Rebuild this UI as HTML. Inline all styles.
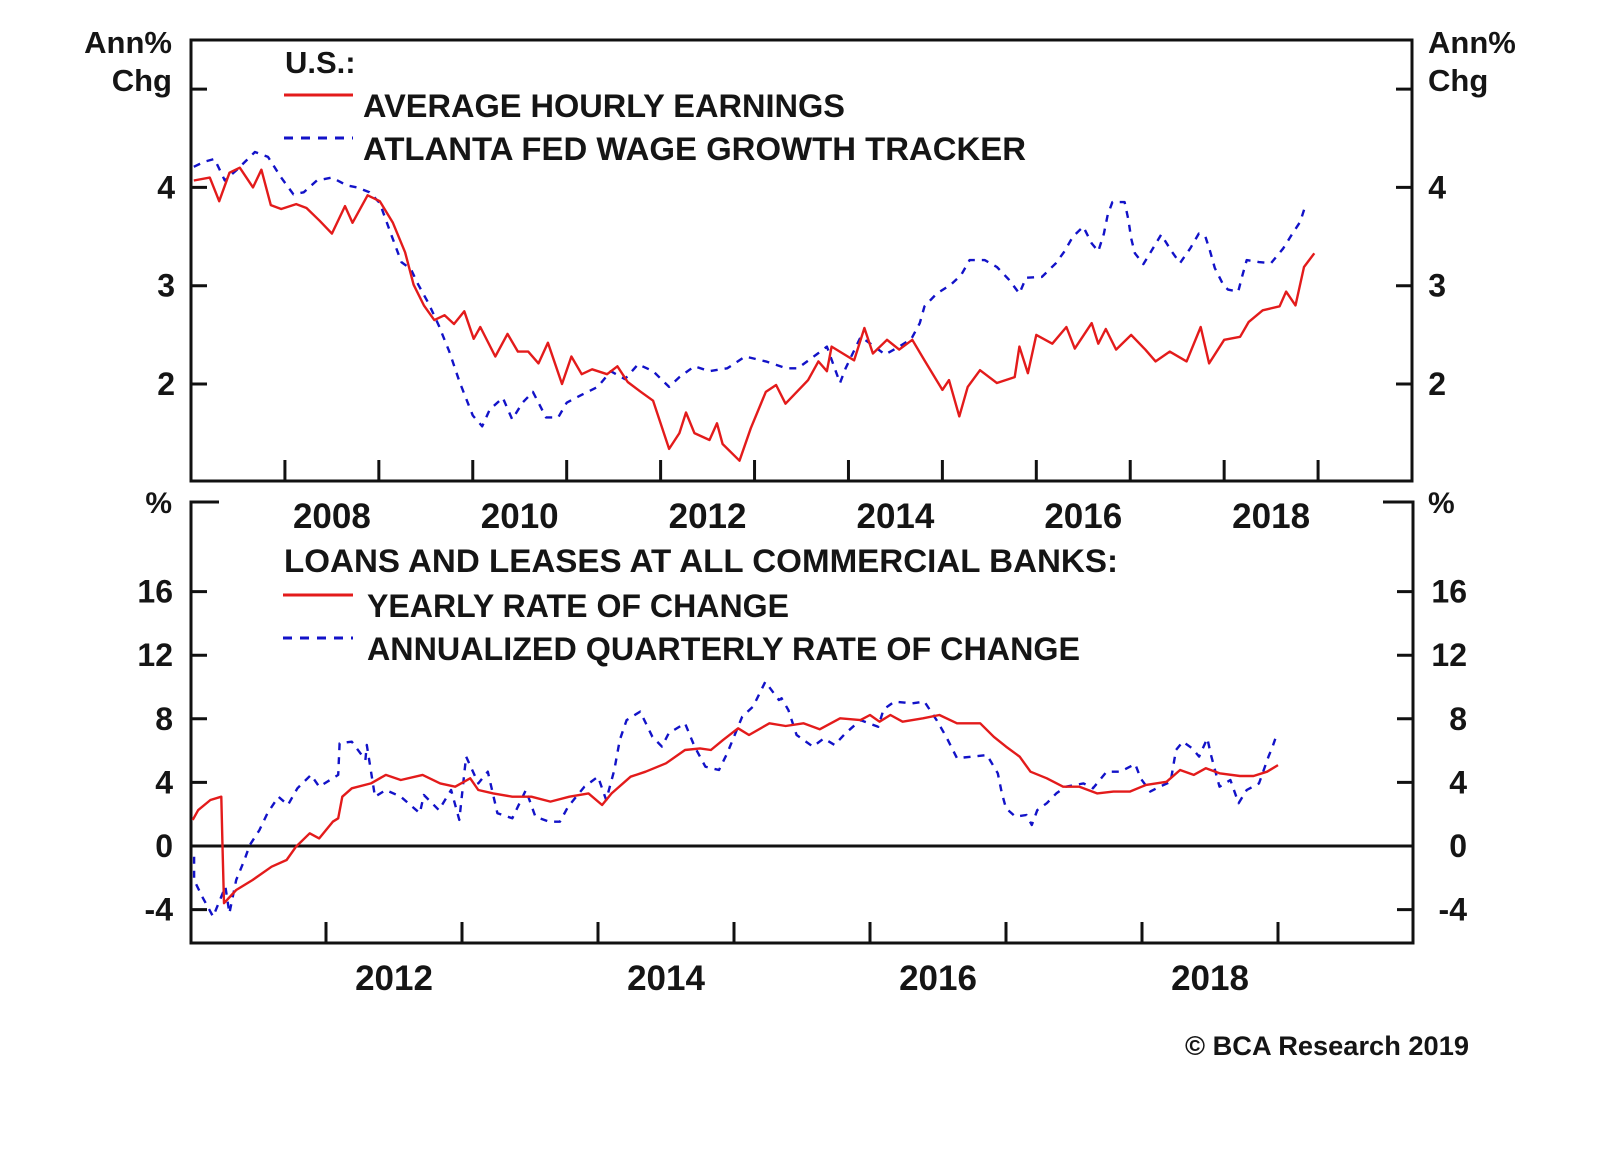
<!DOCTYPE html>
<html><head><meta charset="utf-8">
<style>
html,body{margin:0;padding:0;background:#fff;}
svg{display:block;}
text{font-family:"Liberation Sans",Arial,sans-serif;font-weight:bold;fill:#151515;}
</style></head>
<body>
<svg id="chart" width="1600" height="1152" viewBox="0 0 1600 1152" xmlns="http://www.w3.org/2000/svg">
  <rect width="1600" height="1152" fill="#fff"/>
  <g id="top-panel"></g>
  <g id="bot-panel"></g>
  <text x="1185" y="1055" font-size="27" textLength="284" lengthAdjust="spacingAndGlyphs">© BCA Research 2019</text>
</svg>
<script>
// ---- Top panel data ----
const aheYears = [2007.03,2007.2,2007.3,2007.41,2007.52,2007.66,2007.75,2007.85,2007.96,2008.12,2008.23,2008.37,2008.5,2008.64,2008.72,2008.88,2009.01,2009.15,2009.28,2009.37,2009.48,2009.59,2009.7,2009.8,2009.91,2010.01,2010.08,2010.24,2010.37,2010.48,2010.59,2010.7,2010.8,2010.95,2011.05,2011.16,2011.27,2011.43,2011.54,2011.65,2011.79,2011.92,2012.09,2012.2,2012.27,2012.36,2012.52,2012.6,2012.66,2012.84,2012.96,2013.12,2013.23,
2013.33,2013.57,2013.68,2013.77,2013.82,2014.06,2014.17,2014.26,2014.41,2014.54,2014.68,2014.81,2015.0,2015.07,2015.18,2015.27,2015.4,2015.58,2015.77,2015.82,2015.91,2016.0,2016.17,2016.32,2016.41,2016.59,2016.66,2016.74,2016.85,2017.01,2017.16,2017.27,2017.42,2017.6,2017.75,2017.84,2018.0,2018.17,2018.26,2018.41,2018.59,2018.66,2018.76,2018.85,2018.96];
const aheValues = [4.07,4.1,3.86,4.15,4.2,4.0,4.18,3.82,3.78,3.83,3.79,3.66,3.53,3.81,3.64,3.92,3.86,3.64,3.34,3.01,2.8,2.65,2.7,2.61,2.74,2.46,2.58,2.28,2.51,2.33,2.33,2.21,2.42,2.0,2.28,2.1,2.15,2.1,2.18,2.02,1.92,1.83,1.34,1.5,1.71,1.5,1.43,1.6,1.39,1.22,1.55,1.92,1.99,
1.80,2.04,2.23,2.13,2.38,2.24,2.57,2.31,2.45,2.35,2.45,2.24,1.94,2.04,1.67,1.97,2.14,2.01,2.07,2.38,2.11,2.5,2.41,2.58,2.36,2.62,2.41,2.56,2.35,2.5,2.35,2.23,2.33,2.23,2.58,2.21,2.45,2.48,2.63,2.75,2.79,2.94,2.8,3.19,3.33];
const atlYears = [2007.03,2007.14,2007.25,2007.36,2007.49,2007.68,2007.82,2007.96,2008.09,2008.2,2008.34,2008.5,2008.66,2008.77,2008.9,2009.01,2009.12,2009.24,2009.34,2009.42,2009.53,2009.64,2009.75,2009.86,2010.0,2010.1,2010.18,2010.32,2010.42,2010.53,2010.64,2010.78,2010.91,2011.0,2011.16,2011.33,2011.47,2011.62,2011.76,2011.92,2012.09,2012.2,2012.36,2012.52,2012.71,2012.9,2013.12,2013.34,
2013.46,2013.66,2013.77,2013.91,2013.97,2014.13,2014.25,2014.39,2014.54,2014.67,2014.76,2014.81,2014.94,2015.09,2015.2,2015.29,2015.45,2015.58,2015.71,2015.82,2015.89,2016.06,2016.21,2016.3,2016.39,2016.5,2016.59,2016.66,2016.72,2016.76,2016.81,2016.94,2016.98,2017.01,2017.05,2017.14,2017.23,2017.33,2017.44,2017.53,2017.64,2017.73,2017.8,2017.85,2017.9,2017.99,2018.04,2018.15,2018.19,2018.24,2018.37,2018.5,2018.63,2018.72,2018.81,2018.87];
const atlValues = [4.21,4.26,4.29,4.07,4.18,4.36,4.31,4.1,3.93,3.95,4.07,4.1,4.02,4.0,3.95,3.84,3.55,3.24,3.17,3.01,2.82,2.59,2.33,2.02,1.68,1.57,1.74,1.86,1.64,1.81,1.92,1.66,1.66,1.81,1.89,1.97,2.13,2.05,2.2,2.13,1.97,2.07,2.18,2.13,2.16,2.28,2.23,2.16,
2.16,2.3,2.38,2.01,2.16,2.48,2.4,2.3,2.38,2.46,2.62,2.79,2.92,3.01,3.11,3.26,3.26,3.19,3.06,2.92,3.08,3.09,3.23,3.35,3.5,3.6,3.43,3.35,3.53,3.72,3.85,3.85,3.67,3.48,3.33,3.22,3.36,3.52,3.35,3.23,3.38,3.53,3.5,3.35,3.18,3.01,2.96,2.94,3.09,3.26,3.24,3.23,3.38,3.52,3.65,3.83];
const topYTicks = [2,3,4,5];
const topYLabels = ["2","3","4",""];
const topXTicks = [2008,2009,2010,2011,2012,2013,2014,2015,2016,2017,2018,2019];
const topXLabels = ["2008","2010","2012","2014","2016","2018"];

// ---- Bottom panel data ----
const yoyYears = [2011.02,2011.06,2011.15,2011.23,2011.24,2011.25,2011.34,2011.46,2011.6,2011.71,2011.78,2011.88,2011.95,2012.05,2012.09,2012.12,2012.19,2012.33,2012.44,2012.55,2012.71,2012.84,2012.95,2013.06,2013.12,2013.23,2013.37,2013.51,2013.65,2013.79,2013.93,2014.03,2014.1,2014.24,2014.35,2014.5,2014.64,2014.75,2014.83,2014.92,2015.03,2015.11,2015.26,2015.38,
2015.51,2015.63,2015.78,2015.93,2016.0,2016.07,2016.15,2016.24,2016.39,2016.51,2016.64,2016.81,2016.91,2017.0,2017.1,2017.18,2017.3,2017.42,2017.54,2017.67,2017.79,2017.91,2018.03,2018.18,2018.28,2018.38,2018.47,2018.57,2018.72,2018.82,2018.92,2019.0];
const yoyValues = [1.64,2.26,2.89,3.1,-0.25,-3.6,-2.77,-2.14,-1.3,-0.88,-0.04,0.8,0.48,1.53,1.74,3.1,3.63,3.94,4.47,4.15,4.47,3.94,3.73,4.26,3.52,3.31,3.1,3.1,2.79,3.1,3.31,2.58,3.31,4.36,4.67,5.2,6.04,6.14,6.04,6.67,7.4,6.98,7.72,7.55,
7.72,7.34,8.03,7.92,8.24,7.82,8.24,7.82,8.03,8.24,7.72,7.72,6.87,6.25,5.62,4.67,4.26,3.73,3.73,3.31,3.42,3.42,3.84,4.04,4.78,4.47,4.89,4.57,4.4,4.4,4.67,5.09];
const qtrYears = [2011.03,2011.03,2011.09,2011.17,2011.26,2011.29,2011.34,2011.4,2011.44,2011.51,2011.57,2011.65,2011.72,2011.79,2011.89,2011.95,2012.09,2012.1,2012.19,2012.29,2012.3,2012.36,2012.44,2012.55,2012.69,2012.72,2012.83,2012.92,2012.98,2013.03,2013.12,2013.19,2013.26,2013.37,2013.47,2013.54,2013.64,2013.72,2013.78,2013.9,2014.0,2014.06,2014.12,2014.16,2014.21,2014.31,2014.4,2014.47,2014.52,2014.64,2014.71,2014.79,2014.89,2014.95,2015.06,2015.14,2015.23,2015.33,
2015.35,2015.4,2015.46,2015.58,2015.66,2015.74,2015.82,2015.93,2016.06,2016.1,2016.18,2016.31,2016.4,2016.49,2016.56,2016.64,2016.75,2016.86,2016.94,2016.97,2017.0,2017.07,2017.15,2017.19,2017.23,2017.3,2017.37,2017.44,2017.57,2017.64,2017.74,2017.84,2017.95,2017.99,2018.06,2018.13,2018.21,2018.25,2018.3,2018.37,2018.42,2018.48,2018.51,2018.57,2018.65,2018.71,2018.77,2018.86,2018.93,2018.96,2018.99];
const qtrValues = [-0.67,-2.14,-3.19,-4.44,-2.56,-4.23,-2.14,-0.88,0.06,1.0,2.06,3.1,2.58,3.63,4.47,3.73,4.47,6.46,6.56,5.41,6.35,3.1,3.52,3.1,2.06,3.21,2.26,3.52,1.64,5.62,3.94,4.67,2.06,1.74,3.52,1.84,1.53,1.53,2.47,3.73,4.36,2.89,4.78,6.67,7.92,8.45,6.87,6.25,7.09,7.72,6.25,4.99,4.78,5.83,8.13,8.76,10.33,9.18,
9.29,8.55,6.98,6.25,6.77,6.35,7.09,7.92,7.5,8.6,9.08,8.97,9.08,7.92,6.87,5.52,5.62,5.72,4.57,3.31,2.37,1.84,1.95,1.32,2.26,2.69,3.31,3.73,3.94,3.63,4.67,4.67,5.16,4.26,3.42,3.73,4.04,6.04,6.56,6.14,5.62,6.77,5.62,3.73,4.15,2.69,3.52,3.94,5.62,6.25,6.98];
const botYTicks = [-4,0,4,8,12,16];
const botYLabels = ["-4","0","4","8","12","16"];
const botXTicks = [2012,2013,2014,2015,2016,2017,2018,2019];
const botXLabels = ["2012","2014","2016","2018"];

// ---- axis functions ----
const TL=191, TR=1412, TT=40, TB=481;
const tx = y => TL + (y-2007)*(TR-TL)/13;
const ty = v => 384 - (v-2)*98.3;
const BL=191, BR=1413, BT=502, BB=943;
const bx = y => 190 + (y-2011)*136;
const by = v => 846 - v*15.9;

const NS="http://www.w3.org/2000/svg";
function mk(parent, tag, attrs, text){
  const e=document.createElementNS(NS,tag);
  for(const k in attrs) e.setAttribute(k, attrs[k]);
  if(text!==undefined) e.textContent=text;
  parent.appendChild(e); return e;
}
const RED="#e31b1b", BLUE="#1212c8";

function line(parent,xs,ys,fx,fy,color,dash,name){
  const d=xs.map((x,i)=>(i?'L':'M')+fx(x).toFixed(1)+' '+fy(ys[i]).toFixed(1)).join('');
  const p=mk(parent,'path',{d:d,fill:'none',stroke:color,'stroke-width':2.4,'stroke-linejoin':'round'});
  if(dash) p.setAttribute('stroke-dasharray',dash);
  
  
}

// ===== TOP PANEL =====
const topG=document.getElementById('top-panel');
let fr=mk(topG,'rect',{x:TL,y:TT,width:TR-TL,height:TB-TT,fill:'none',stroke:'#111','stroke-width':3});


topYTicks.forEach((v,i)=>{
  let t=mk(topG,'path',{d:`M${TL} ${ty(v)}H${TL+16}M${TR} ${ty(v)}H${TR-16}`,stroke:'#111','stroke-width':3});
  
  
  if(topYLabels[i]){
    let l=mk(topG,'text',{x:175,y:ty(v)+11,'font-size':32,'text-anchor':'end'},topYLabels[i]);
    
    
    let r=mk(topG,'text',{x:1446,y:ty(v)+11,'font-size':32,'text-anchor':'end'},topYLabels[i]);
    
    
  }
});
topXTicks.forEach(yr=>{
  let t=mk(topG,'path',{d:`M${tx(yr)} ${TB}V${TB-21}`,stroke:'#111','stroke-width':3});
  
  
});
topXLabels.forEach(s=>{
  let l=mk(topG,'text',{x:tx(+s+0.5),y:528,'font-size':35,'text-anchor':'middle'},s);
  
  
});
line(topG,atlYears,atlValues,tx,ty,BLUE,'7 7','atlanta-fed-wage-line');
line(topG,aheYears,aheValues,tx,ty,RED,null,'avg-hourly-earnings-line');
[['Ann%',172,53,'end','top-left-unit'],['Chg',172,91,'end','top-left-unit-2'],['Ann%',1428,53,'start','top-right-unit'],['Chg',1428,91,'start','top-right-unit-2']].forEach(a=>{
  let l=mk(topG,'text',{x:a[1],y:a[2],'font-size':31,'text-anchor':a[3]},a[0]);
  
  
});
let h=mk(topG,'text',{x:285,y:73,'font-size':31},'U.S.:');


let ls=mk(topG,'path',{d:'M284 95H353',stroke:RED,'stroke-width':3});


let lt=mk(topG,'text',{x:363,y:117,'font-size':32,textLength:482,lengthAdjust:'spacingAndGlyphs'},'AVERAGE HOURLY EARNINGS');


ls=mk(topG,'path',{d:'M284 138H353',stroke:BLUE,'stroke-width':3,'stroke-dasharray':'9 8'});


lt=mk(topG,'text',{x:363,y:160,'font-size':32,textLength:663,lengthAdjust:'spacingAndGlyphs'},'ATLANTA FED WAGE GROWTH TRACKER');



// ===== BOTTOM PANEL =====
const botG=document.getElementById('bot-panel');
let bf=mk(botG,'path',{d:`M${BL+28} ${BT}H${BL}V${BB}H${BR}V${BT}H${BR-30}`,fill:'none',stroke:'#111','stroke-width':3});


let zl=mk(botG,'path',{d:`M${BL} ${by(0)}H${BR}`,stroke:'#111','stroke-width':3});


botYTicks.forEach((v,i)=>{
  let t=mk(botG,'path',{d:`M${BL} ${by(v)}H${BL+16}M${BR} ${by(v)}H${BR-16}`,stroke:'#111','stroke-width':3});
  
  
  let l=mk(botG,'text',{x:173,y:by(v)+11,'font-size':32,'text-anchor':'end'},botYLabels[i]);
  
  
  let r=mk(botG,'text',{x:1467,y:by(v)+11,'font-size':32,'text-anchor':'end'},botYLabels[i]);
  
  
});
botXTicks.forEach(yr=>{
  let t=mk(botG,'path',{d:`M${bx(yr)} ${BB}V${BB-21}`,stroke:'#111','stroke-width':3});
  
  
});
botXLabels.forEach(s=>{
  let l=mk(botG,'text',{x:bx(+s+0.5),y:990,'font-size':35,'text-anchor':'middle'},s);
  
  
});
line(botG,qtrYears,qtrValues,bx,by,BLUE,'7 7','annualized-quarterly-line');
line(botG,yoyYears,yoyValues,bx,by,RED,null,'yearly-rate-line');
[['%',172,513,'end','bottom-left-unit'],['%',1428,513,'start','bottom-right-unit']].forEach(a=>{
  let l=mk(botG,'text',{x:a[1],y:a[2],'font-size':30,'text-anchor':a[3]},a[0]);
  
  
});
h=mk(botG,'text',{x:284,y:572,'font-size':32,textLength:834,lengthAdjust:'spacingAndGlyphs'},'LOANS AND LEASES AT ALL COMMERCIAL BANKS:');


ls=mk(botG,'path',{d:'M283 595H353',stroke:RED,'stroke-width':3});


lt=mk(botG,'text',{x:367,y:617,'font-size':32,textLength:422,lengthAdjust:'spacingAndGlyphs'},'YEARLY RATE OF CHANGE');


ls=mk(botG,'path',{d:'M283 638H353',stroke:BLUE,'stroke-width':3,'stroke-dasharray':'9 8'});


lt=mk(botG,'text',{x:367,y:660,'font-size':32,textLength:713,lengthAdjust:'spacingAndGlyphs'},'ANNUALIZED QUARTERLY RATE OF CHANGE');


</script>
</body></html>
